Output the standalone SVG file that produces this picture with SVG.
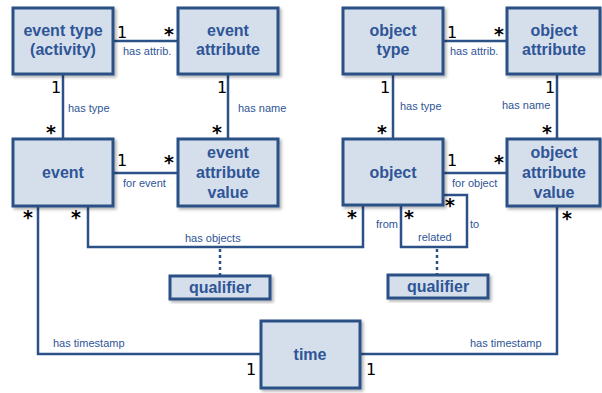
<svg xmlns="http://www.w3.org/2000/svg" width="602" height="393" viewBox="0 0 602 393">
<defs>
<filter id="sh" x="-10%" y="-10%" width="130%" height="130%">
<feDropShadow dx="2" dy="2" stdDeviation="1.5" flood-color="#000" flood-opacity="0.3"/>
</filter>
</defs>
<style>
.box{fill:#d5dfec;stroke:#2c5186;stroke-width:3;filter:url(#sh)}
.nt{font-family:"Liberation Sans",Arial,sans-serif;font-weight:bold;font-size:16px;fill:#2f5597;text-anchor:middle}
.ln{fill:none;stroke:#2c5186;stroke-width:2.5}
.dash{fill:none;stroke:#2c5186;stroke-width:2.5;stroke-dasharray:3 3}
.lb{font-family:"Liberation Sans",Arial,sans-serif;font-size:11px;fill:#2f5597}
.m{font-family:"DejaVu Sans",sans-serif;font-size:16px;fill:#000}
.s{font-family:"DejaVu Sans",sans-serif;font-size:19px;font-weight:bold;fill:#000}
</style>
<rect width="602" height="393" fill="#fff"/>
<g id="connectors">
<path class="ln" d="M113 41H178"/>
<path class="ln" d="M63 74V139"/>
<path class="ln" d="M228 74V139"/>
<path class="ln" d="M443 41H507"/>
<path class="ln" d="M393 74V139"/>
<path class="ln" d="M557 74V139"/>
<path class="ln" d="M113 173H178"/>
<path class="ln" d="M443 173H507"/>
<path class="ln" d="M88 206V247H363V205"/>
<path class="ln" d="M401 205V247H467V195H443"/>
<path class="dash" d="M220 249V276"/>
<path class="dash" d="M437 249V275"/>
<path class="ln" d="M38 206V354H261"/>
<path class="ln" d="M557 206V354H360"/>
<text class="lb" x="123" y="55">has attrib.</text>
<text class="lb" x="450" y="55">has attrib.</text>
<text class="lb" x="68" y="112">has type</text>
<text class="lb" x="238" y="112">has name</text>
<text class="lb" x="400" y="110">has type</text>
<text class="lb" x="502" y="109">has name</text>
<text class="lb" x="123" y="187">for event</text>
<text class="lb" x="452" y="187">for object</text>
<text class="lb" x="185" y="242">has objects</text>
<text class="lb" x="376" y="228">from</text>
<text class="lb" x="470" y="228">to</text>
<text class="lb" x="418" y="241">related</text>
<text class="lb" x="53" y="347">has timestamp</text>
<text class="lb" x="470" y="347">has timestamp</text>
<text class="m" x="117" y="38">1</text>
<text class="s" x="164" y="41">*</text>
<text class="m" x="447" y="38">1</text>
<text class="s" x="494" y="41">*</text>
<text class="m" x="51" y="93">1</text>
<text class="s" x="46" y="139">*</text>
<text class="m" x="217" y="93">1</text>
<text class="s" x="212" y="139">*</text>
<text class="m" x="380" y="93">1</text>
<text class="s" x="377" y="139">*</text>
<text class="m" x="545" y="93">1</text>
<text class="s" x="542" y="139">*</text>
<text class="m" x="117" y="166">1</text>
<text class="s" x="164" y="169">*</text>
<text class="m" x="447" y="166">1</text>
<text class="s" x="494" y="169">*</text>
<text class="s" x="23" y="224">*</text>
<text class="s" x="71" y="224">*</text>
<text class="s" x="347" y="224">*</text>
<text class="s" x="404" y="224">*</text>
<text class="s" x="445" y="212">*</text>
<text class="s" x="562" y="225">*</text>
<text class="m" x="246" y="375">1</text>
<text class="m" x="366" y="375">1</text>
</g>
<g id="event-type"><rect class="box" x="13" y="8" width="100" height="66"/><text class="nt" x="63" y="36">event type</text><text class="nt" x="63" y="55">(activity)</text></g>
<g id="event-attribute"><rect class="box" x="178" y="8" width="100" height="66"/><text class="nt" x="228" y="36">event</text><text class="nt" x="228" y="55">attribute</text></g>
<g id="object-type"><rect class="box" x="343" y="8" width="100" height="66"/><text class="nt" x="393" y="36">object</text><text class="nt" x="393" y="55">type</text></g>
<g id="object-attribute"><rect class="box" x="507" y="8" width="93" height="66"/><text class="nt" x="554" y="36">object</text><text class="nt" x="554" y="55">attribute</text></g>
<g id="event"><rect class="box" x="13" y="139" width="100" height="67"/><text class="nt" x="63" y="178">event</text></g>
<g id="event-attribute-value"><rect class="box" x="178" y="139" width="100" height="67"/><text class="nt" x="228" y="158">event</text><text class="nt" x="228" y="178">attribute</text><text class="nt" x="228" y="198">value</text></g>
<g id="object"><rect class="box" x="343" y="139" width="100" height="66"/><text class="nt" x="393" y="178">object</text></g>
<g id="object-attribute-value"><rect class="box" x="507" y="139" width="93" height="67"/><text class="nt" x="554" y="158">object</text><text class="nt" x="554" y="178">attribute</text><text class="nt" x="554" y="198">value</text></g>
<g id="qualifier-1"><rect class="box" x="170" y="276" width="100" height="23"/><text class="nt" x="220" y="293">qualifier</text></g>
<g id="qualifier-2"><rect class="box" x="388" y="275" width="100" height="23"/><text class="nt" x="438" y="292">qualifier</text></g>
<g id="time"><rect class="box" x="261" y="321" width="99" height="67"/><text class="nt" x="310" y="360">time</text></g>
</svg>
